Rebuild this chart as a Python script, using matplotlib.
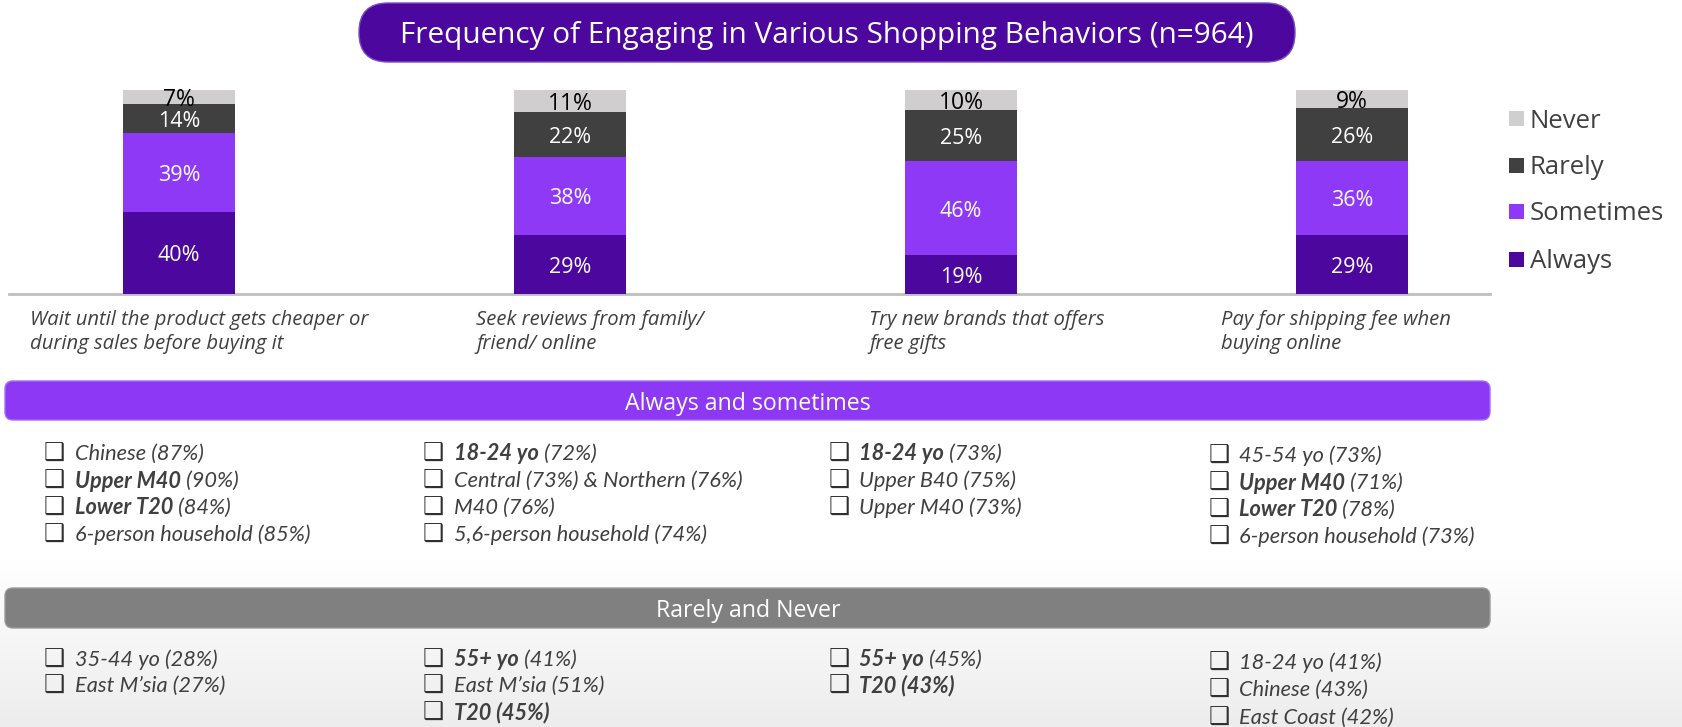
# Stacked bars of shopping behaviour frequency + segment call-outs
import numpy as np
import matplotlib.pyplot as plt
from matplotlib.patches import FancyBboxPatch, Rectangle
from matplotlib.colors import LinearSegmentedColormap

behaviors = ["Wait until the product gets cheaper or\nduring sales before buying it",
             "Seek reviews from family/\nfriend/ online",
             "Try new brands that offers\nfree gifts",
             "Pay for shipping fee when\nbuying online"]
always = [40, 29, 19, 29]
sometimes = [39, 38, 46, 36]
rarely = [14, 22, 25, 26]
never = [7, 11, 10, 9]
series_names = ["Always", "Sometimes", "Rarely", "Never"]

title = "Frequency of Engaging in Various Shopping Behaviors (n=964)"
band_titles = ["Always and sometimes", "Rarely and Never"]

# (bold part, regular part) per line, one list per behaviour
always_sometimes = [
    [("", "Chinese (87%)"), ("Upper M40", " (90%)"), ("Lower T20", " (84%)"), ("", "6-person household (85%)")],
    [("18-24 yo", " (72%)"), ("", "Central (73%) & Northern (76%)"), ("", "M40 (76%)"), ("", "5,6-person household (74%)")],
    [("18-24 yo", " (73%)"), ("", "Upper B40 (75%)"), ("", "Upper M40 (73%)")],
    [("", "45-54 yo (73%)"), ("Upper M40", " (71%)"), ("Lower T20", " (78%)"), ("", "6-person household (73%)")],
]
rarely_never = [
    [("", "35-44 yo (28%)"), ("", "East M\u2019sia (27%)")],
    [("55+ yo", " (41%)"), ("", "East M\u2019sia (51%)"), ("T20 (45%)", "")],
    [("55+ yo", " (45%)"), ("T20 (43%)", "")],
    [("", "18-24 yo (41%)"), ("", "Chinese (43%)"), ("", "East Coast (42%)")],
]

colors = ["#4C079E", "#8E39F5", "#404040", "#D0CECF"]
label_colors = ["white", "white", "white", "black"]
text_grey = "#404040"

W, H = 1682, 727
fig = plt.figure(figsize=(W / 100, H / 100), dpi=100)

# full-figure overlay in pixel coordinates for boxes and text
bg = fig.add_axes([0, 0, 1, 1])
bg.axis("off")
grad = np.linspace(0, 1, 200).reshape(-1, 1)
cmap = LinearSegmentedColormap.from_list("fade", ["#FFFFFF", "#EDEDED"])
bg.imshow(grad, extent=[0, W, H, 560], cmap=cmap, aspect="auto", zorder=0)
bg.set_xlim(0, W)
bg.set_ylim(H, 0)

# title pill
bg.add_patch(FancyBboxPatch((359, 3), 936, 59, boxstyle="round,pad=0,rounding_size=29",
                            fc="#4C079E", ec="#7B4BC4", lw=1, zorder=2))
bg.text(827, 35, title, color="white", fontsize=21.4, family="Open Sans",
        ha="center", va="center", zorder=3)

# bar chart
ax = fig.add_axes([9 / W, (H - 294) / H, 1481 / W, 204 / H])
ax.patch.set_alpha(0)
x = np.arange(len(behaviors))
bottom = np.zeros(len(behaviors))
for vals, name, c, lc in zip([always, sometimes, rarely, never], series_names, colors, label_colors):
    vals = np.array(vals)
    ax.bar(x, vals, width=0.286, bottom=bottom, color=c, label=name, zorder=2)
    for xi, b, v in zip(x, bottom, vals):
        ax.annotate(f"{v}%", (xi, b + v / 2), xytext=(0, -2), textcoords="offset points",
                    color=lc, ha="center", va="center",
                    fontsize=16.5 if lc == "black" else 15.5, family="Open Sans", zorder=3)
    bottom += vals
ax.set_xlim(-0.435, 3.353)
ax.set_ylim(0, 100)
ax.axhline(0, color="#BFBFBF", lw=2, zorder=1, clip_on=False)
ax.axis("off")

# category labels under the bars
for xp, lab in zip([30, 476, 869, 1221], behaviors):
    bg.text(xp, 310, lab, color=text_grey, fontsize=14.6, style="italic", family="Open Sans",
            ha="left", va="top", linespacing=1.25, zorder=3)

# manual legend
for name, c, yc in zip(series_names, colors, [259, 211, 165, 118]):
    bg.add_patch(Rectangle((1509, yc - 7), 15, 15, fc=c, ec="none", zorder=3))
    bg.text(1530, yc + 3, name, color=text_grey, fontsize=18.5, family="Open Sans",
            ha="left", va="center", zorder=3)

# section bands
bg.add_patch(FancyBboxPatch((5, 381), 1485, 39, boxstyle="round,pad=0,rounding_size=8",
                            fc="#8C38F5", ec="#A66CF5", lw=1, zorder=2))
bg.text(748, 404, band_titles[0], color="white", fontsize=16.7, family="Open Sans",
        ha="center", va="center", zorder=3)
bg.add_patch(FancyBboxPatch((5, 588), 1485, 40, boxstyle="round,pad=0,rounding_size=8",
                            fc="#808080", ec="#9A9A9A", lw=1, zorder=2))
bg.text(748, 611, band_titles[1], color="white", fontsize=16.7, family="Open Sans",
        ha="center", va="center", zorder=3)

renderer = fig.canvas.get_renderer()
box_x = [44, 423, 829, 1209]
txt_x = [75, 454, 859, 1239]


def bullet_block(groups, rows_a, rows_b):
    for ci, lines in enumerate(groups):
        rows = rows_b if ci == 3 else rows_a
        for (bold, rest), yc in zip(lines, rows):
            bg.text(box_x[ci], yc, "\u2751", color="#303030", fontsize=17,
                    family="DejaVu Sans", ha="left", va="center", zorder=3)
            xx = txt_x[ci]
            if bold:
                t = bg.text(xx, yc, bold, color=text_grey, fontsize=15.7, style="italic",
                            weight="bold", family="Lato", ha="left", va="center", zorder=3)
                xx += t.get_window_extent(renderer=renderer).width
            if rest:
                bg.text(xx, yc, rest, color=text_grey, fontsize=15.7, style="italic",
                        family="Lato", ha="left", va="center", zorder=3)


bullet_block(always_sometimes, [454, 481, 508, 535], [456, 483, 510, 537])
bullet_block(rarely_never, [660, 686, 713], [663, 690, 718])

fig.savefig("out.png", dpi=100, facecolor="white")
